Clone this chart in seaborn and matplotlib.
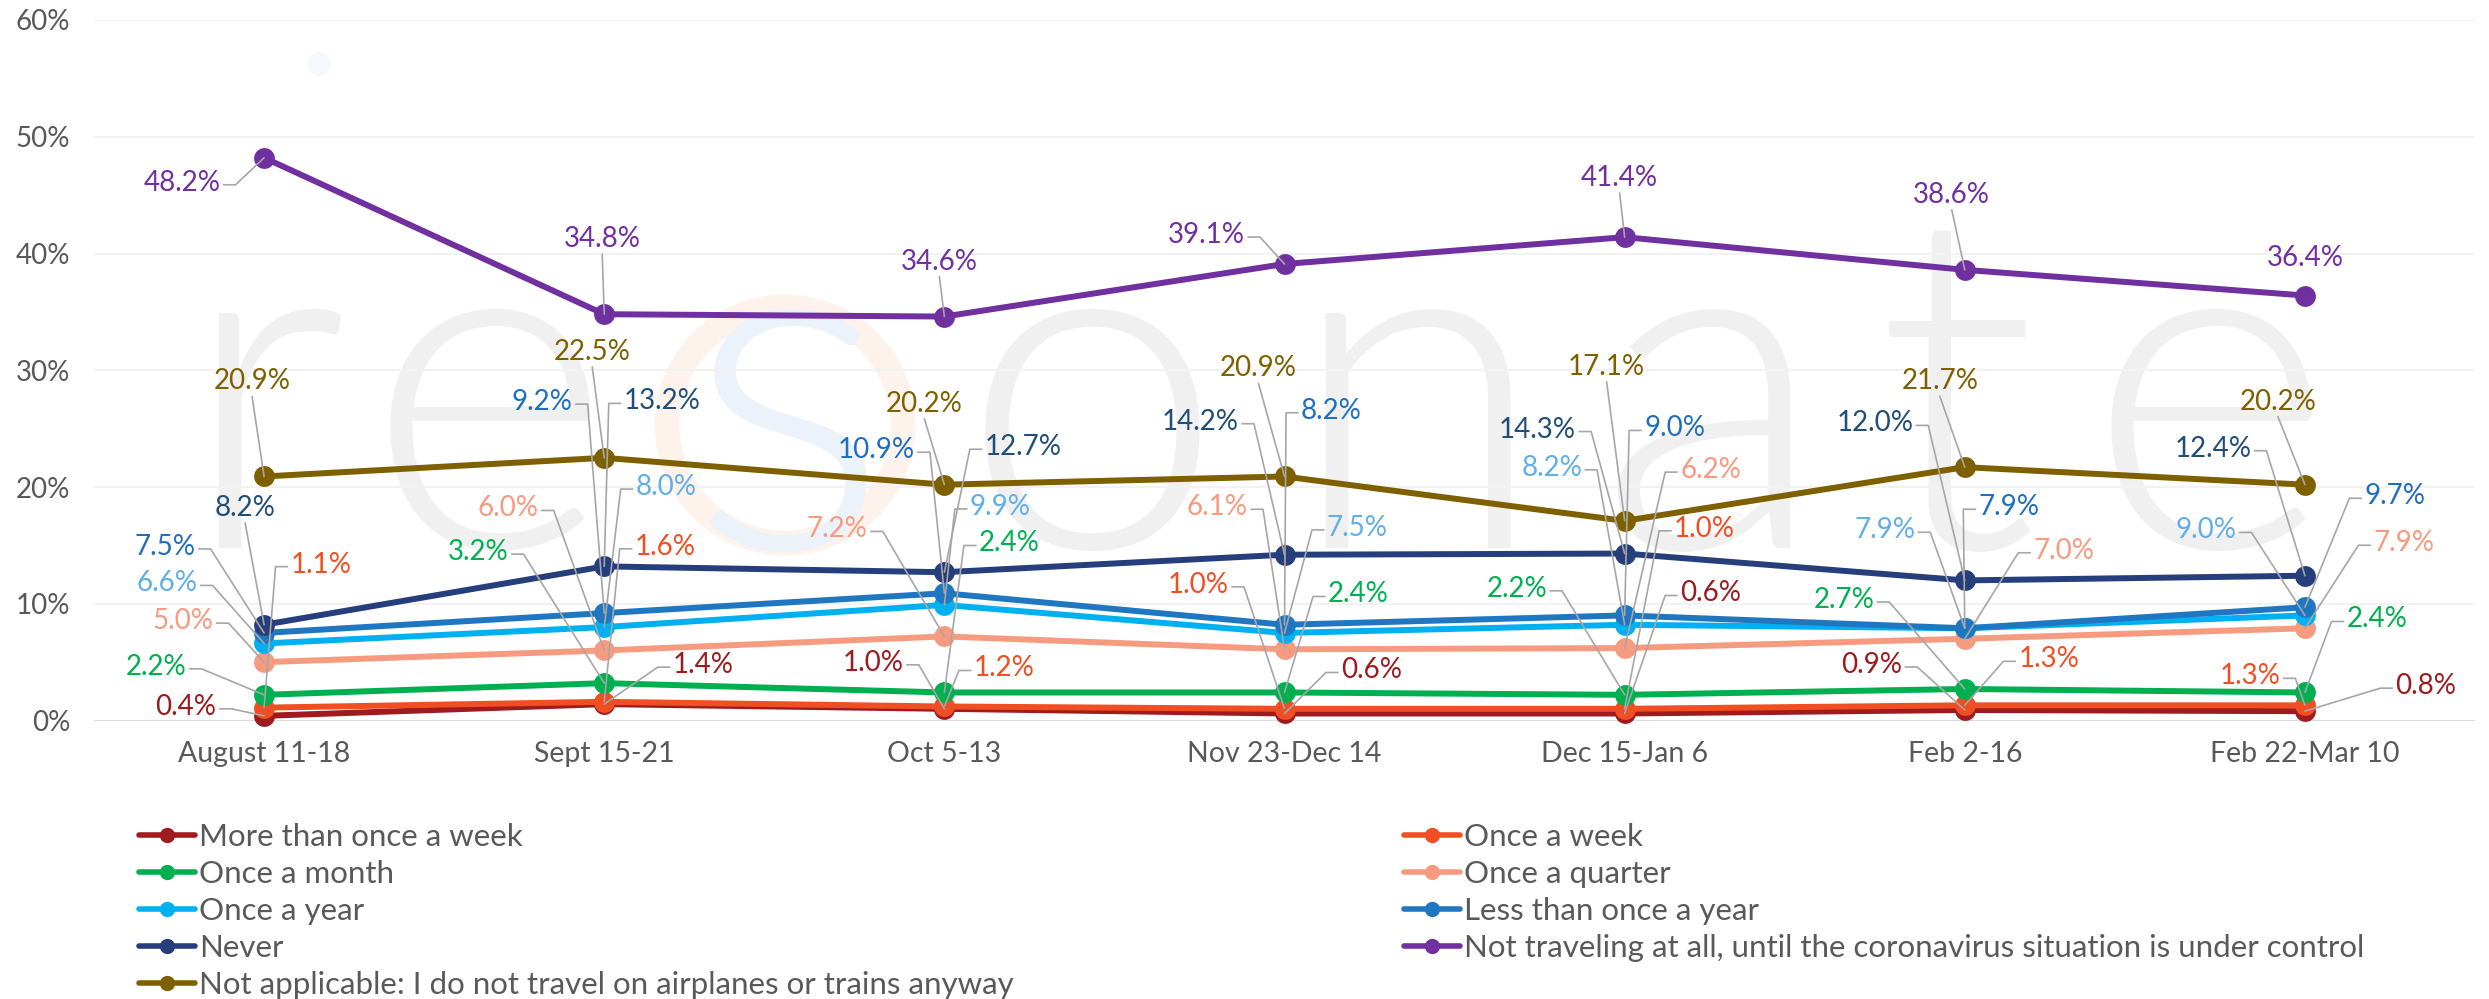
import pandas as pd
import matplotlib
matplotlib.use("Agg")
import matplotlib.pyplot as plt
import seaborn as sns
from matplotlib.lines import Line2D
from matplotlib.patches import Circle

# data (percent)
periods = ["August 11-18", "Sept 15-21", "Oct 5-13", "Nov 23-Dec 14",
           "Dec 15-Jan 6", "Feb 2-16", "Feb 22-Mar 10"]

more_than_weekly = [0.4, 1.4, 1.0, 0.6, 0.6, 0.9, 0.8]
once_week = [1.1, 1.6, 1.2, 1.0, 1.0, 1.3, 1.3]
once_month = [2.2, 3.2, 2.4, 2.4, 2.2, 2.7, 2.4]
once_quarter = [5.0, 6.0, 7.2, 6.1, 6.2, 7.0, 7.9]
once_year = [6.6, 8.0, 9.9, 7.5, 8.2, 7.9, 9.0]
less_than_yearly = [7.5, 9.2, 10.9, 8.2, 9.0, 7.9, 9.7]
never = [8.2, 13.2, 12.7, 14.2, 14.3, 12.0, 12.4]
not_traveling = [48.2, 34.8, 34.6, 39.1, 41.4, 38.6, 36.4]
not_applicable = [20.9, 22.5, 20.2, 20.9, 17.1, 21.7, 20.2]

series_names = ["More than once a week", "Once a week", "Once a month",
                "Once a quarter", "Once a year", "Less than once a year", "Never",
                "Not traveling at all, until the coronavirus situation is under control",
                "Not applicable: I do not travel on airplanes or trains anyway"]
series_values = [more_than_weekly, once_week, once_month, once_quarter, once_year,
                 less_than_yearly, never, not_traveling, not_applicable]

yticks = [0, 10, 20, 30, 40, 50, 60]
ytick_labels = ["0%", "10%", "20%", "30%", "40%", "50%", "60%"]

# styling
line_colors = ["#9E1B20", "#F04E23", "#00B050", "#F79B80", "#00B0F0",
               "#1F77C2", "#263E7C", "#7030A0", "#7F6000"]
label_colors = ["#9B1B1E", "#F04E23", "#00B050", "#F79A7F", "#62AEE8",
                "#1F6FC0", "#1F4E79", "#7030A0", "#7F6000"]

# label offsets from each point in pixels (dx right, dy up)
label_offsets = [
    [(-78, 9), (99, 39), (-71, 46), (87, 43), (86, 120), (-93, 45), (121, 25)],
    [(57, 143), (61, 155), (60, 38), (-86, 124), (80, 180), (84, 46), (-55, 29)],
    [(-108, 28), (-126, 131), (65, 149), (74, 98), (-108, 106), (-121, 89), (72, 73)],
    [(-81, 41), (-96, 142), (-107, 107), (-67, 142), (86, 178), (99, 88), (99, 85)],
    [(-97, 60), (62, 140), (56, 98), (73, 105), (-73, 157), (-80, 98), (-99, 85)],
    [(-99, 86), (-62, 211), (-68, 143), (47, 214), (50, 187), (44, 121), (90, 111)],
    [(-19, 117), (58, 165), (79, 125), (-84, 133), (-87, 124), (-90, 157), (-92, 127)],
    [(-82, -25), (-2, 75), (-5, 55), (-78, 29), (-5, 59), (-13, 75), (0, 38)],
    [(-12, 95), (-12, 106), (-20, 81), (-26, 108), (-18, 154), (-25, 86), (-27, 83)],
]

sns.set_theme(style="white")
plt.rcParams["font.family"] = ["Lato", "DejaVu Sans"]

rows = []
for name, vals in zip(series_names, series_values):
    for i, v in enumerate(vals):
        rows.append({"series": name, "pos": i, "value": v})
df = pd.DataFrame(rows)

W, H = 2489, 999
fig = plt.figure(figsize=(W / 100, H / 100), dpi=100)
ax = fig.add_axes([94 / W, 278.5 / H, (2475 - 94) / W, 700.5 / H])

# faint "resonate" watermark behind the plot
wm_letters = ["r", "e", "s", "o", "n", "a", "t", "e"]
wm_x = [263, 489, 788, 1092, 1416, 1712, 1956, 2210]
fig.add_artist(Circle((785, H - 425), 118, transform=None, fill=False,
                      edgecolor="#FDF3EC", linewidth=18, zorder=-2))
fig.add_artist(Circle((319, H - 64), 11, transform=None, color="#F5F8FC",
                      zorder=-2))
for ch, x in zip(wm_letters, wm_x):
    col = "#ECF2F9" if ch == "s" else "#F0F0F0"
    fig.text(x / W, 1 - 548 / H, ch, ha="center", va="baseline", fontsize=340,
             fontweight=300, color=col, zorder=-1)

sns.lineplot(data=df, x="pos", y="value", hue="series", hue_order=series_names,
             palette=line_colors, marker="o", markersize=15, markeredgewidth=0,
             linewidth=4.3, errorbar=None, legend=False, sort=False, ax=ax)
for ln in ax.lines:
    ln.set_clip_on(False)
    ln.set_zorder(3)

ax.set_xlim(-0.5, 6.5)
ax.set_ylim(0, 60)
ax.set_xticks(range(len(periods)))
ax.set_xticklabels(periods)
ax.set_yticks(yticks)
ax.set_yticklabels(ytick_labels)
ax.tick_params(axis="x", length=0, pad=15, labelsize=20.5, labelcolor="#595959")
ax.tick_params(axis="y", length=0, pad=17, labelsize=20, labelcolor="#595959")
ax.set_xlabel("")
ax.set_ylabel("")
ax.set_axisbelow(True)
ax.yaxis.grid(True, color="#F2F2F2", linewidth=1.5)
ax.xaxis.grid(False)
ax.axhline(0, color="#D9D9D9", linewidth=2, zorder=1)
for s in ax.spines.values():
    s.set_visible(False)
ax.patch.set_alpha(0)

# data labels
texts = []
for k, vals in enumerate(series_values):
    for i, v in enumerate(vals):
        dx, dy = label_offsets[k][i]
        t = ax.annotate(f"{v:.1f}%", xy=(i, v), xytext=(dx, dy),
                        textcoords="offset pixels", ha="center", va="center",
                        fontsize=20, color=label_colors[k], zorder=6,
                        annotation_clip=False)
        texts.append((t, i, v))

# leader lines, Excel style: short stub at the label side, then to the point
fig.canvas.draw()
inv = ax.transData.inverted()
for t, i, v in texts:
    bb = t.get_window_extent()
    px, py = ax.transData.transform((i, v))
    cy = (bb.y0 + bb.y1) / 2 - 2
    if bb.x0 - 4 <= px <= bb.x1 + 4:
        start_y = bb.y0 - 2 if bb.y0 > py else bb.y1 + 2
        pts = [((bb.x0 + bb.x1) / 2, start_y), (px, py)]
    elif bb.x0 > px:
        pts = [(bb.x0 - 3, cy), (bb.x0 - 15, cy), (px, py)]
    else:
        pts = [(bb.x1 + 3, cy), (bb.x1 + 15, cy), (px, py)]
    seg = ((pts[-2][0] - px) ** 2 + (pts[-2][1] - py) ** 2) ** 0.5
    if seg < 30 and len(pts) == 2:
        continue
    dpts = inv.transform(pts)
    ax.plot(dpts[:, 0], dpts[:, 1], color="#A6A6A6", linewidth=1.2,
            zorder=5, clip_on=False)

# legend in two columns, row-major like the original
handles = [Line2D([], [], color=c, lw=4, marker="o", ms=11, mew=0)
           for c in line_colors]
left_idx = [0, 2, 4, 6, 8]
right_idx = [1, 3, 5, 7]
common = dict(loc="upper left", frameon=False, fontsize=22.5, handlelength=1.8,
              handletextpad=0.12, labelspacing=0.29, borderpad=0,
              borderaxespad=0, labelcolor="#595959")
fig.legend([handles[i] for i in left_idx], [series_names[i] for i in left_idx],
           bbox_to_anchor=(139 / W, 1 - 823 / H), **common)
fig.legend([handles[i] for i in right_idx], [series_names[i] for i in right_idx],
           bbox_to_anchor=(1404 / W, 1 - 823 / H), **common)

fig.savefig("out.png", dpi=100)
